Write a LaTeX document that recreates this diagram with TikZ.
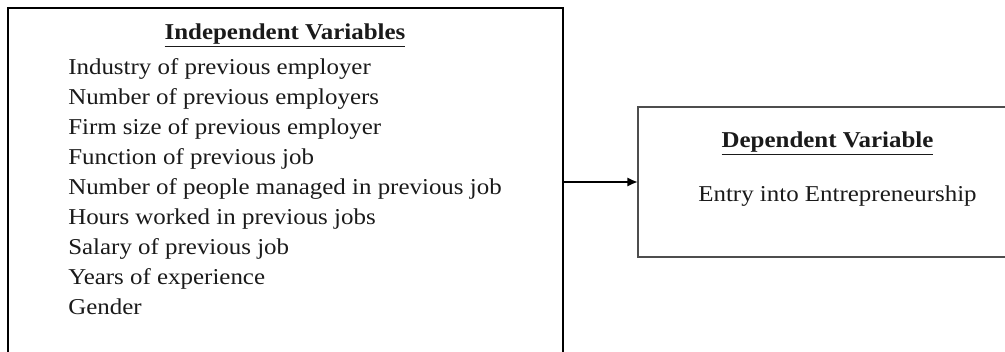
\documentclass[tikz,border=0pt]{standalone}
\usepackage{fontspec}
\setmainfont[FakeStretch=1.1]{Liberation Serif}
\usetikzlibrary{arrows.meta,positioning,calc}
\definecolor{ink}{HTML}{1A1A1A}
\definecolor{rim}{HTML}{4D4D4D}

\begin{document}
\begin{tikzpicture}[
  x=0.75pt,y=-0.75pt,
  font=\fontsize{17}{20}\selectfont,
  box/.style={draw,fill=white,anchor=north west,inner sep=0pt,outer sep=0pt},
  head/.style={font=\fontsize{17}{20}\selectfont\bfseries,text=ink,anchor=base},
  item/.style={text=ink,anchor=base west,inner sep=0pt},
  arr/.style={-{Latex[length=8pt,width=7pt]},line width=1.8pt}
]
\useasboundingbox (0,0) rectangle (1005,352);
\clip (0,0) rectangle (1005,352);

\node[box,line width=1.5pt,minimum width=416.25pt,minimum height=270pt] (indep) at (8,8) {};
\node[box,draw=rim,line width=1pt,minimum width=300pt,minimum height=112.5pt] (dep) at (638,107) {};

\node[head] (indephead) at (285,40) {\underline{Independent Variables}};
\foreach \txt [count=\i] in {Industry of previous employer,
    Number of previous employers,
    Firm size of previous employer,
    Function of previous job,
    Number of people managed in previous job,
    Hours worked in previous jobs,
    Salary of previous job,
    Years of experience,
    Gender}
  \node[item] (var\i) at (68,{75+30*(\i-1)}) {\txt};

\node[head] (dephead) at (827.5,148) {\underline{Dependent Variable}};
\node[item,anchor=base] (entry) at (837.5,202) {Entry into Entrepreneurship};

\draw[arr] (indep.east |- dep.west) -- (dep.west);
\end{tikzpicture}
\end{document}
